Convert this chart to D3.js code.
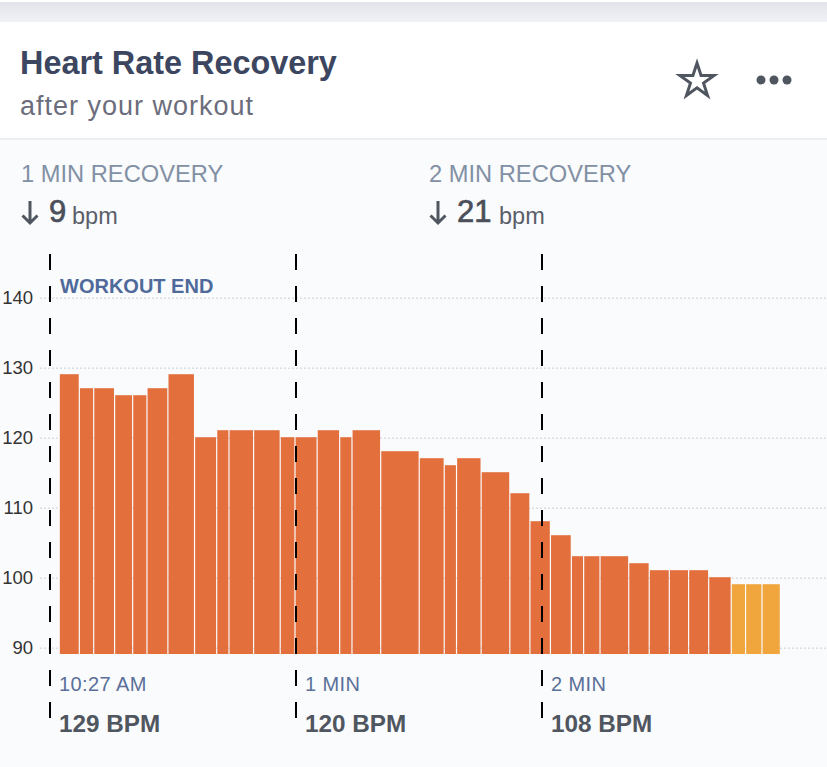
<!DOCTYPE html>
<html>
<head>
<meta charset="utf-8">
<script src="https://cdn.jsdelivr.net/npm/d3@7"></script>
<style>
html, body { margin: 0; padding: 0; background: #fafbfd; overflow: hidden; }
svg { display: block; font-family: "Liberation Sans", sans-serif; }
</style>
</head>
<body>
<svg id="SVG_CONTAINER" width="827" height="767"></svg>
<script>
// bar start times in seconds after the workout end
const barStart = [2.4, 7.3, 10.8, 15.9, 20.3, 23.8, 28.9, 35.4, 40.8, 43.8, 49.8, 56.3,
    59.9, 65.3, 70.8, 73.8, 80.8, 90.2, 96.3, 99.3, 105.3, 112.3, 117.2, 122.2,
    127.3, 130.3, 134.3, 141.3, 146.3, 151.2, 155.9, 160.8, 166.3, 169.8, 173.8];
const barEnd = 178;
const bpm = [129, 127, 127, 126, 126, 127, 129, 120, 121, 121, 121, 120,
    120, 121, 120, 121, 118, 117, 116, 117, 115, 112, 108, 106,
    103, 103, 103, 102, 101, 101, 101, 100, 99, 99, 99];
const lastBars = 3; // the yellow ones at the end

const yTicks = [90, 100, 110, 120, 130, 140];
const markerSecs = [0, 60, 120];
const markerLabels = ["10:27 AM", "1 MIN", "2 MIN"];
const markerBpm = ["129 BPM", "120 BPM", "108 BPM"];
const recoveryLabels = ["1 MIN RECOVERY", "2 MIN RECOVERY"];
const recoveryValues = ["9", "21"];

const svg = d3.select("#SVG_CONTAINER");

const xScale = d3.scaleLinear().domain([0, 120]).range([50, 542]);
const yScale = d3.scaleLinear().domain([90, 140]).range([647.7, 297.7]);
const floorY = 654;

// page background and card
svg.append("rect").attr("width", 827).attr("height", 767).attr("fill", "#fafbfd");
const topFade = svg.append("defs").append("linearGradient")
    .attr("id", "topFade").attr("x1", 0).attr("x2", 0).attr("y1", 0).attr("y2", 1);
topFade.append("stop").attr("offset", 0).attr("stop-color", "#e2e4ea");
topFade.append("stop").attr("offset", 1).attr("stop-color", "#f1f2f6");
svg.append("rect").attr("y", 2).attr("width", 827).attr("height", 20).attr("fill", "url(#topFade)");
svg.append("rect").attr("width", 827).attr("height", 2).attr("fill", "#ffffff");
svg.append("rect").attr("y", 22).attr("width", 827).attr("height", 116).attr("fill", "#ffffff");
svg.append("rect").attr("y", 138).attr("width", 827).attr("height", 2).attr("fill", "#eceef1");

// header
svg.append("text").attr("x", 20).attr("y", 74).text("Heart Rate Recovery")
    .attr("font-size", 32.4).attr("font-weight", "bold").attr("fill", "#3d4660");
svg.append("text").attr("x", 20).attr("y", 115).text("after your workout")
    .attr("font-size", 27).attr("letter-spacing", 1).attr("fill", "#6b6d7c");

svg.append("path")
    .attr("d", d3.symbol(d3.symbolStar, 364))
    .attr("transform", "translate(697,81)")
    .attr("fill", "none").attr("stroke", "#50565f").attr("stroke-width", 3)
    .attr("stroke-linejoin", "miter");
svg.selectAll(".dot").data([761, 774, 787]).enter().append("circle")
    .attr("class", "dot").attr("cx", d => d).attr("cy", 80).attr("r", 4.5).attr("fill", "#50565f");

// recovery summary
const summary = svg.selectAll(".summary").data(recoveryLabels).enter().append("g")
    .attr("class", "summary")
    .attr("transform", (d, i) => "translate(" + (i === 0 ? 21 : 429) + ",0)");
summary.append("text").attr("y", 182).text(d => d)
    .attr("font-size", 23.7).attr("fill", "#8290a4");
summary.append("path")
    .attr("d", "M9,201V223M1.5,215.5L9,223L16.5,215.5")
    .attr("fill", "none").attr("stroke", "#50565f").attr("stroke-width", 3);
summary.append("text").attr("x", 28).attr("y", 222).text((d, i) => recoveryValues[i])
    .attr("font-size", 31).attr("fill", "#4a4f5a")
    .attr("stroke", "#4a4f5a").attr("stroke-width", 0.7);
summary.append("text").attr("x", (d, i) => i === 0 ? 51 : 70).attr("y", 224).text("bpm")
    .attr("font-size", 23.5).attr("fill", "#5a5f6a");

// y axis, the ticks double as the dotted grid
const yAxis = d3.axisLeft(yScale).tickValues(yTicks).tickSize(-787).tickPadding(7);
const yG = svg.append("g").attr("transform", "translate(40,0)").call(yAxis);
yG.select(".domain").remove();
yG.selectAll("line").attr("stroke", "#dcdee3").attr("stroke-width", 1.5).attr("stroke-dasharray", "2 2");
yG.selectAll("text").attr("font-size", 18.5).attr("font-family", "Liberation Sans").attr("fill", "#333");

// bars
svg.selectAll(".bar").data(bpm).enter().append("rect")
    .attr("class", "bar")
    .attr("x", (d, i) => xScale(barStart[i]))
    .attr("y", d => yScale(d) - 0.5)
    .attr("width", (d, i) => xScale(i + 1 < barStart.length ? barStart[i + 1] : barEnd) - xScale(barStart[i]) - (i + 1 < barStart.length ? 1.2 : 0))
    .attr("height", d => floorY - yScale(d) + 0.5)
    .attr("fill", (d, i) => i >= bpm.length - lastBars ? "#f0a63c" : "#e3703c");

// dashed markers
svg.selectAll(".marker").data(markerSecs).enter().append("line")
    .attr("class", "marker")
    .attr("x1", d => xScale(d)).attr("x2", d => xScale(d))
    .attr("y1", 254).attr("y2", 718)
    .attr("stroke", "#000").attr("stroke-width", 2).attr("stroke-dasharray", "16 16");

svg.append("text").attr("x", 60).attr("y", 293).text("WORKOUT END")
    .attr("font-size", 20).attr("font-weight", "bold").attr("fill", "#4f6a9a");

svg.selectAll(".markerLabel").data(markerLabels).enter().append("text")
    .attr("class", "markerLabel")
    .attr("x", (d, i) => xScale(markerSecs[i]) + 9).attr("y", 691).text(d => d)
    .attr("font-size", 20).attr("letter-spacing", 0.4).attr("fill", "#5a7099");
svg.selectAll(".markerBpm").data(markerBpm).enter().append("text")
    .attr("class", "markerBpm")
    .attr("x", (d, i) => xScale(markerSecs[i]) + 9).attr("y", 731.5).text(d => d)
    .attr("font-size", 24.3).attr("font-weight", "bold").attr("fill", "#50565f");
</script>
</body>
</html>
